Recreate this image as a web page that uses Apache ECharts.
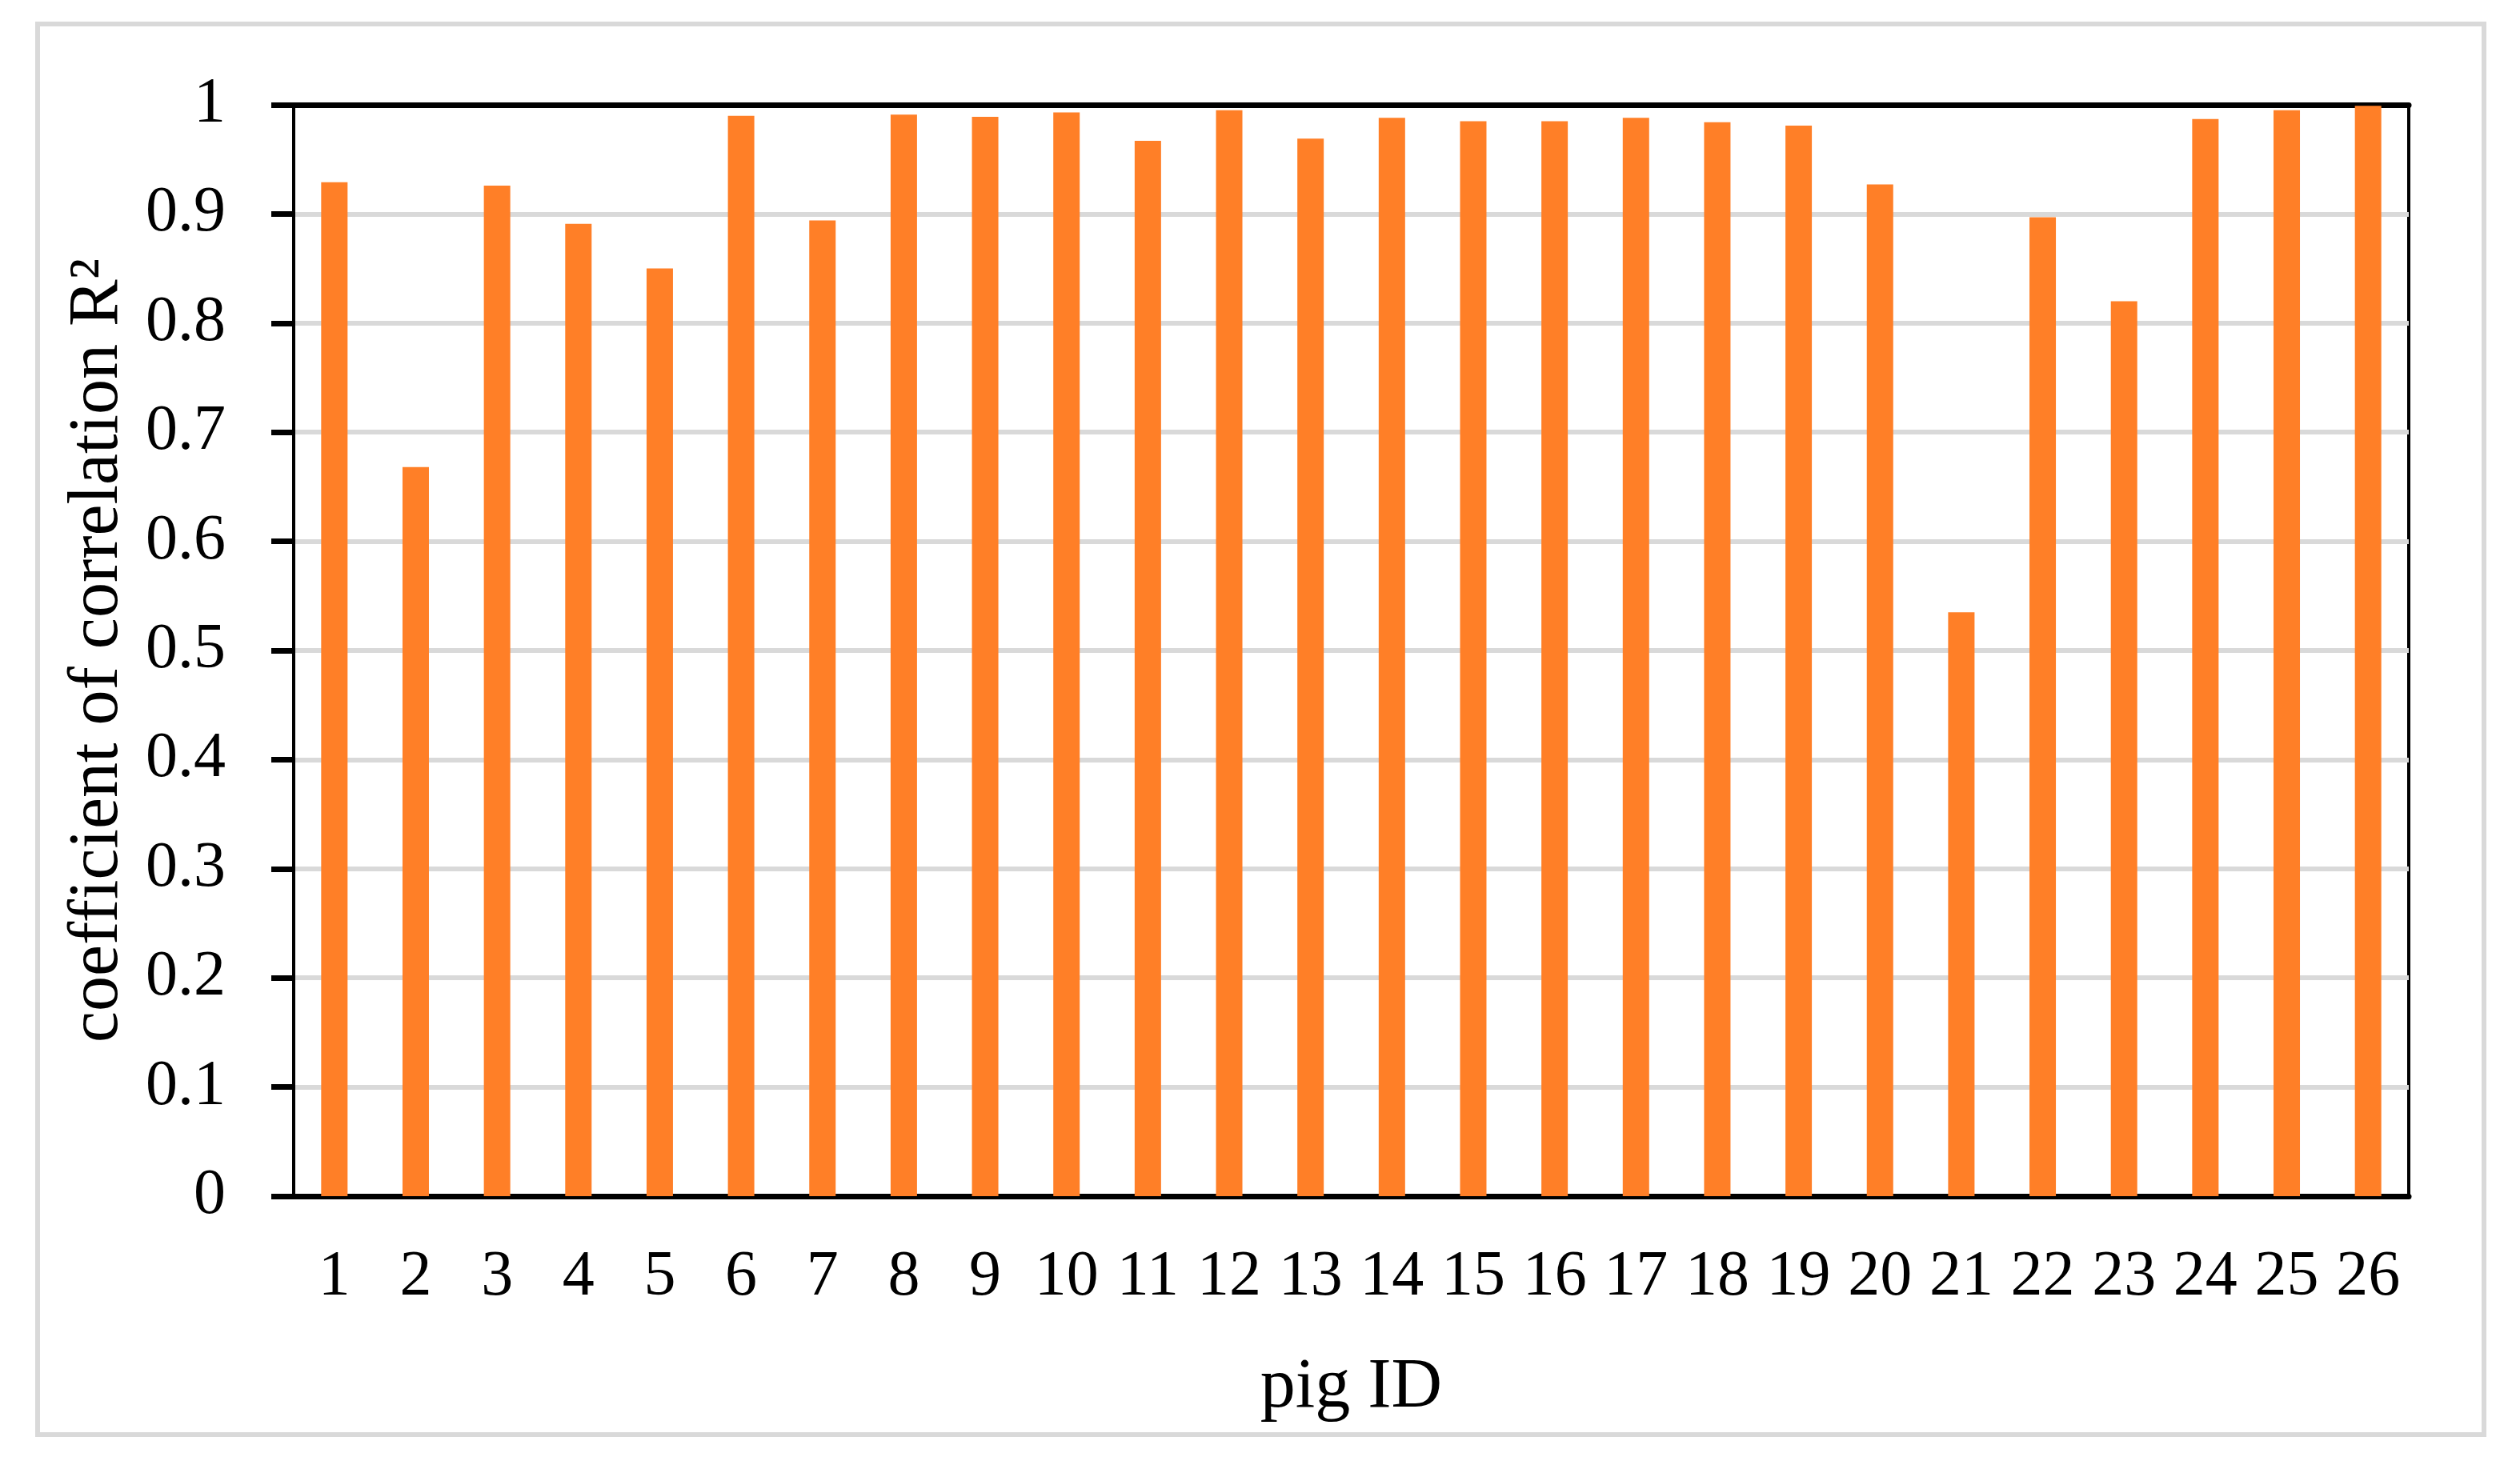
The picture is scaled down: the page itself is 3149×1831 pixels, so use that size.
<!DOCTYPE html>
<html>
<head>
<meta charset="utf-8">
<script src="https://cdn.jsdelivr.net/npm/echarts@6/dist/echarts.min.js"></script>
<style>
  html, body { margin: 0; padding: 0; background: #fff; }
  #chart { width: 3149px; height: 1831px; }
</style>
</head>
<body>
<div id="chart"></div>
<script>
(function () {
  // pig IDs on the x axis
  var pigIds = ["1", "2", "3", "4", "5", "6", "7", "8", "9", "10", "11", "12", "13",
    "14", "15", "16", "17", "18", "19", "20", "21", "22", "23", "24", "25", "26"];
  // R2 per pig
  var r2Values = [0.929, 0.668, 0.926, 0.891, 0.850, 0.990, 0.894, 0.991, 0.989, 0.993,
    0.967, 0.995, 0.969, 0.988, 0.985, 0.985, 0.988, 0.984, 0.981, 0.927,
    0.535, 0.897, 0.820, 0.987, 0.995, 0.999];

  var font = "Liberation Serif";
  var myChart = echarts.init(document.getElementById("chart"), null, { renderer: "canvas" });

  var option = {
    backgroundColor: "#fff",
    animation: false,
    // light grey frame around the whole figure
    graphic: [{
      type: "rect",
      shape: { x: 47, y: 30, width: 3057, height: 1763 },
      style: { fill: "none", stroke: "#d9d9d9", lineWidth: 6 },
      z: 0
    }],
    grid: {
      left: 367, right: 139, top: 131, bottom: 336,
      show: true, borderColor: "#000", borderWidth: 4
    },
    xAxis: [{
      type: "category",
      data: pigIds,
      position: "bottom",
      name: "pig ID",
      nameLocation: "middle",
      nameGap: 196,
      nameTextStyle: { fontFamily: font, fontSize: 88, color: "#000" },
      axisLine: { show: true, lineStyle: { color: "#000", width: 7 } },
      axisTick: { show: false },
      axisLabel: { fontFamily: font, fontSize: 80, color: "#000", margin: 62, interval: 0 }
    }, {
      type: "category",
      data: pigIds,
      position: "top",
      axisLine: { show: true, lineStyle: { color: "#000", width: 7 } },
      axisTick: { show: false },
      axisLabel: { show: false }
    }],
    yAxis: {
      type: "value",
      min: 0,
      max: 1,
      interval: 0.1,
      name: "coefficient of correlation R²",
      nameLocation: "middle",
      nameGap: 200,
      nameTextStyle: { fontFamily: font, fontSize: 88, color: "#000" },
      axisLine: { show: true, lineStyle: { color: "#000", width: 4 } },
      axisTick: { show: true, inside: false, length: 28, lineStyle: { color: "#000", width: 7 } },
      axisLabel: {
        fontFamily: font, fontSize: 80, color: "#000", margin: 85,
        formatter: function (v) { return String(Math.round(v * 10) / 10); }
      },
      splitLine: { show: true, lineStyle: { color: "#d9d9d9", width: 6 } }
    },
    series: [{
      type: "bar",
      data: r2Values,
      barWidth: 33,
      itemStyle: { color: "#ff7f27" },
      z: 2
    }]
  };

  myChart.setOption(option);
  window.addEventListener("resize", function () {
    myChart.resize();
  });
})();
</script>
</body>
</html>
